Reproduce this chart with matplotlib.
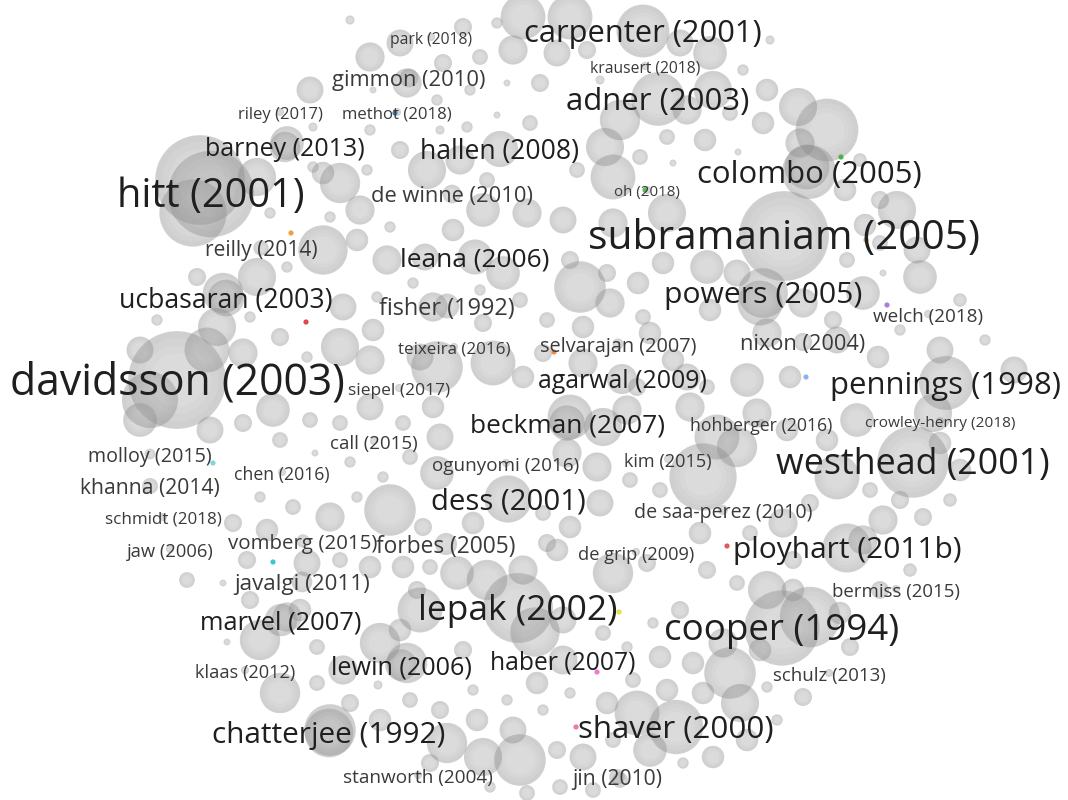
import matplotlib
matplotlib.use("Agg")
import matplotlib.pyplot as plt
from matplotlib.patches import Circle, Wedge
from matplotlib.collections import PatchCollection

# labelled documents: name, map x, map y, label size (weight)
names = [
    "park (2018)", "carpenter (2001)", "krausert (2018)", "gimmon (2010)", "adner (2003)",
    "riley (2017)", "methot (2018)", "barney (2013)", "hallen (2008)", "colombo (2005)",
    "hitt (2001)", "de winne (2010)", "oh (2018)", "subramaniam (2005)", "reilly (2014)",
    "leana (2006)", "ucbasaran (2003)", "fisher (1992)", "powers (2005)", "welch (2018)",
    "teixeira (2016)", "selvarajan (2007)", "nixon (2004)", "davidsson (2003)", "siepel (2017)",
    "agarwal (2009)", "pennings (1998)", "beckman (2007)", "hohberger (2016)", "crowley-henry (2018)",
    "call (2015)", "molloy (2015)", "chen (2016)", "ogunyomi (2016)", "kim (2015)",
    "westhead (2001)", "khanna (2014)", "dess (2001)", "schmidt (2018)", "de saa-perez (2010)",
    "jaw (2006)", "vomberg (2015)", "forbes (2005)", "de grip (2009)", "ployhart (2011b)",
    "javalgi (2011)", "bermiss (2015)", "lepak (2002)", "marvel (2007)", "cooper (1994)",
    "klaas (2012)", "lewin (2006)", "haber (2007)", "schulz (2013)", "chatterjee (1992)",
    "shaver (2000)", "stanworth (2004)", "jin (2010)",
]
label_x = [
    431, 643, 645, 409, 658, 280, 397, 285, 500, 809,
    211, 452, 647, 784, 261, 475, 226, 447, 763, 928,
    454, 618, 803, 177, 399, 622, 946, 567, 761, 940,
    374, 150, 282, 506, 668, 913, 150, 508, 163, 723,
    170, 303, 446, 636, 847, 302, 896, 518, 281, 782,
    245, 401, 563, 829, 329, 676, 418, 617,
]
label_y = [
    37, 31, 66, 78, 99, 112, 112, 147, 149, 172,
    194, 194, 190, 236, 248, 257, 298, 306, 293, 314,
    347, 344, 342, 380, 388, 379, 383, 423, 423, 421,
    441, 454, 472, 463, 459, 462, 486, 499, 517, 510,
    549, 541, 544, 552, 548, 582, 589, 608, 620, 628,
    670, 665, 660, 673, 733, 727, 775, 777,
]
label_w = [
    15.6, 30.9, 15.6, 21.9, 31.1, 16.6, 16.8, 25.0, 26.5, 31.2,
    39.7, 21.9, 15.1, 40.6, 21.0, 26.2, 26.6, 23.5, 30.1, 18.9,
    17.0, 19.9, 21.8, 42.7, 17.4, 24.9, 31.2, 26.3, 17.6, 15.4,
    18.8, 19.8, 17.6, 18.9, 18.1, 35.8, 21.2, 29.4, 17.0, 19.6,
    18.4, 20.5, 22.8, 18.3, 29.9, 22.4, 18.6, 35.4, 25.5, 36.8,
    18.3, 25.3, 24.6, 18.7, 29.8, 31.3, 19.0, 21.1,
]

# unlabelled documents (x, y, weight), by map region
docs_top_left = [
    (523, 17, 20), (513, 50, 13), (480, 57, 7), (463, 27, 8), (497, 23, 5), (443, 63, 8),
    (400, 43, 12), (370, 57, 13), (310, 90, 12), (407, 83, 13), (470, 90, 5), (507, 83, 3),
    (540, 83, 8), (373, 90, 3), (437, 100, 5), (467, 127, 5), (497, 115, 3), (530, 123, 7),
    (400, 150, 8), (370, 130, 5), (313, 127, 4), (287, 143, 15), (323, 173, 10), (340, 183, 18),
    (313, 167, 5), (367, 170, 5), (427, 170, 17), (460, 160, 13), (487, 180, 7), (200, 180, 40),
    (257, 177, 17), (350, 20, 4), (440, 130, 4),
]
docs_top_right = [
    (570, 17, 20), (680, 43, 12), (710, 53, 15), (587, 50, 8), (557, 53, 12), (743, 70, 5),
    (767, 90, 10), (713, 90, 17), (687, 110, 13), (620, 120, 18), (730, 113, 7), (763, 123, 10),
    (798, 107, 17), (827, 130, 28), (800, 143, 13), (807, 167, 20), (605, 147, 17), (667, 137, 7),
    (705, 140, 10), (640, 157, 7), (613, 177, 20), (577, 170, 7), (738, 152, 3), (673, 163, 3),
    (600, 80, 4), (770, 40, 4), (860, 160, 6), (845, 190, 10), (880, 200, 8), (865, 225, 10),
]
docs_mid_left = [
    (193, 213, 30), (270, 213, 5), (330, 217, 5), (360, 210, 13), (390, 227, 5), (453, 230, 10),
    (483, 210, 15), (527, 213, 13), (323, 250, 22), (357, 240, 10), (387, 260, 13), (425, 257, 12),
    (503, 273, 15), (257, 277, 17), (197, 277, 8), (223, 293, 18), (287, 267, 5), (343, 307, 12),
    (377, 297, 5), (413, 283, 5), (433, 307, 13), (483, 323, 8), (480, 290, 5), (520, 300, 7),
    (217, 327, 17), (157, 320, 5), (250, 317, 5), (280, 337, 8), (307, 357, 5), (340, 347, 17),
    (373, 330, 10), (243, 353, 13), (207, 350, 20), (370, 360, 13), (420, 357, 12), (437, 367, 23),
    (493, 363, 20), (523, 377, 10), (547, 320, 7), (543, 353, 8), (140, 350, 12), (150, 400, 25),
]
docs_mid_right = [
    (563, 220, 12), (570, 260, 8), (613, 223, 13), (667, 213, 17), (707, 267, 15), (737, 273, 12),
    (580, 287, 23), (607, 273, 8), (638, 283, 10), (663, 263, 10), (610, 303, 13), (643, 317, 7),
    (710, 310, 10), (760, 303, 20), (803, 303, 13), (847, 260, 7), (863, 293, 15), (833, 320, 8),
    (883, 273, 3), (920, 277, 15), (897, 210, 17), (917, 250, 12), (880, 243, 7), (583, 327, 10),
    (650, 333, 10), (767, 333, 13), (837, 340, 12), (878, 357, 10), (940, 350, 12), (583, 363, 13),
    (673, 360, 10), (687, 377, 12), (747, 380, 15), (790, 377, 10), (637, 387, 8), (707, 387, 7),
    (960, 300, 6), (985, 340, 5), (900, 330, 5), (1014, 370, 12),
]
docs_low_left = [
    (273, 410, 15), (243, 423, 8), (310, 420, 7), (340, 423, 7), (370, 407, 12), (403, 423, 7),
    (440, 437, 12), (433, 407, 10), (280, 440, 7), (210, 430, 12), (315, 453, 3), (350, 462, 5),
    (410, 457, 7), (437, 473, 15), (383, 477, 5), (390, 510, 23), (357, 497, 5), (330, 517, 13),
    (293, 507, 7), (260, 497, 5), (233, 523, 8), (267, 530, 10), (423, 527, 8), (473, 523, 10),
    (543, 513, 7), (547, 543, 8), (247, 560, 8), (307, 563, 12), (340, 560, 7), (370, 567, 10),
    (403, 567, 10), (430, 567, 7), (457, 573, 15), (487, 580, 18), (523, 570, 13), (187, 580, 7),
    (223, 583, 3), (417, 590, 8), (140, 420, 15),
]
docs_low_right = [
    (570, 417, 20), (603, 427, 17), (627, 410, 13), (690, 407, 13), (717, 437, 20), (737, 447, 18),
    (703, 477, 30), (597, 467, 13), (567, 453, 13), (630, 480, 7), (660, 490, 7), (600, 503, 12),
    (570, 527, 10), (757, 413, 13), (787, 430, 10), (827, 440, 10), (857, 420, 15), (837, 477, 20),
    (870, 490, 7), (933, 413, 17), (940, 443, 10), (900, 500, 8), (923, 517, 8), (883, 520, 13),
    (863, 540, 13), (783, 523, 13), (810, 503, 8), (750, 533, 7), (793, 560, 8), (700, 533, 10),
    (613, 573, 18), (647, 563, 8), (707, 570, 8), (557, 550, 10), (737, 583, 7), (767, 590, 17),
    (793, 590, 10), (960, 470, 10), (950, 500, 6), (880, 590, 8), (910, 570, 6),
]
docs_bottom_left = [
    (535, 632, 22), (420, 610, 20), (400, 630, 10), (380, 643, 18), (463, 650, 8), (260, 640, 18),
    (287, 617, 13), (317, 647, 7), (227, 642, 3), (407, 663, 18), (343, 670, 13), (280, 693, 18),
    (317, 683, 7), (378, 685, 4), (410, 700, 7), (440, 710, 8), (473, 690, 5), (477, 720, 10),
    (507, 700, 5), (537, 683, 10), (330, 730, 23), (380, 720, 10), (447, 743, 18), (483, 757, 17),
    (520, 760, 23), (513, 730, 12), (430, 763, 8), (490, 787, 5), (527, 793, 7), (543, 710, 5),
    (350, 703, 8), (300, 610, 10), (250, 600, 8),
]
docs_bottom_right = [
    (810, 617, 27), (723, 643, 13), (760, 650, 10), (840, 613, 10), (850, 647, 8), (730, 673, 23),
    (693, 663, 10), (660, 657, 10), (653, 623, 5), (627, 647, 5), (633, 680, 7), (667, 690, 10),
    (703, 693, 10), (740, 703, 17), (767, 687, 5), (803, 697, 8), (607, 703, 10), (570, 693, 5),
    (637, 713, 20), (650, 750, 15), (613, 740, 7), (747, 740, 10), (777, 720, 5), (713, 757, 10),
    (583, 757, 12), (557, 750, 8), (683, 763, 5), (560, 787, 7), (593, 790, 7), (620, 780, 7),
    (563, 620, 12), (603, 633, 7), (680, 610, 8),
]

# recently published documents drawn as coloured dots
dot_x = [395, 291, 306, 645, 841, 866, 887, 554, 806, 213, 273, 619, 597, 727, 576]
dot_y = [113, 233, 322, 190, 157, 240, 305, 352, 377, 463, 562, 612, 672, 546, 727]
dot_c = ["#3d7fc0", "#f0a040", "#e0474c", "#5cb85c", "#4caf50", "#f2a65a", "#a77fd8",
         "#f08a4b", "#8fb0f0", "#7fd6e0", "#3cc7d0", "#e6e14a", "#f07ad8", "#e05a5a", "#f07a9a"]

fig = plt.figure(figsize=(10.68, 8), dpi=100)
ax = fig.add_axes([0, 0, 1, 1])
ax.set_xlim(0, 1068)
ax.set_ylim(800, 0)
ax.set_aspect("equal")
ax.axis("off")

docs = (docs_top_left + docs_top_right + docs_mid_left + docs_mid_right
        + docs_low_left + docs_low_right + docs_bottom_left + docs_bottom_right)
bubbles = [(x, y, 1.12 * w) for x, y, w in docs]
bubbles += [(x, y, max(4, 1.9 * (w - 17))) for x, y, w in zip(label_x, label_y, label_w)]

# flat disc plus soft darker rings toward the edge (shaded VOSviewer circles)
discs = [Circle((x, y), r) for x, y, r in bubbles]
ax.add_collection(PatchCollection(discs, facecolor="#9d9d9d", edgecolor="none", alpha=0.36))
for frac in (0.45, 0.3, 0.15):
    rings = [Wedge((x, y), r, 0, 360, width=frac * r) for x, y, r in bubbles]
    ax.add_collection(PatchCollection(rings, facecolor="#8a8a8a", edgecolor="none", alpha=0.045))

ax.scatter(dot_x, dot_y, s=14, c=dot_c, linewidths=0, zorder=3)

for name, x, y, w in zip(names, label_x, label_y, label_w):
    col = "#1f1f1f" if w >= 24 else "#3a3a3a"
    ax.annotate(name, (x, y), xytext=(0, -2), textcoords="offset points",
                ha="center", va="center", fontsize=w * 0.72,
                family="Open Sans", color=col, zorder=4)

fig.savefig("out.png", dpi=100)
